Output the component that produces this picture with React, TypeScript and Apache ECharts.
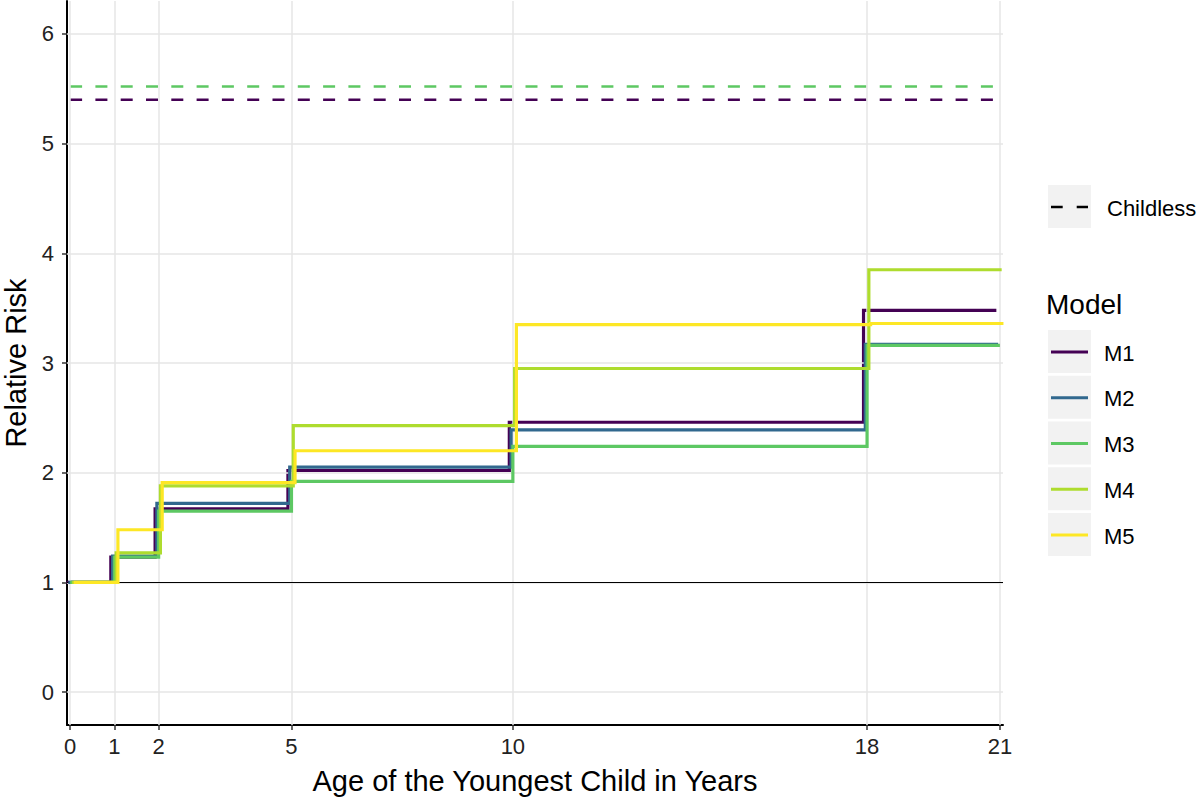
import React, { useEffect, useRef } from "react";
import * as echarts from "echarts";

// ---- data ----
const stepStarts = [0, 1, 2, 5, 10, 18];
const xEnd = 21;
const xTicks = [0, 1, 2, 5, 10, 18, 21];
const yTicks = [0, 1, 2, 3, 4, 5, 6];
const modelNames = ["M1", "M2", "M3", "M4", "M5"];
const m1 = [1, 1.23, 1.67, 2.02, 2.46, 3.48];
const m2 = [1, 1.24, 1.72, 2.05, 2.39, 3.17];
const m3 = [1, 1.23, 1.65, 1.92, 2.24, 3.16];
const m4 = [1, 1.27, 1.88, 2.43, 2.95, 3.85];
const m5 = [1, 1.48, 1.91, 2.2, 3.35, 3.36];
const childlessNames = ["M1", "M3"];
const childlessValues = [5.4, 5.52];
const referenceValue = 1;

// ---- styles ----
const modelColors = ["#440154", "#31688E", "#5DC863", "#AEDC2E", "#FDE725"];
const childlessColors = ["#440154", "#5DC863"];
const dodge = [-0.08, -0.04, 0, 0.04, 0.08];
const FONT = "Liberation Sans, Arial, sans-serif";

export default function App() {
  const ref = useRef<HTMLDivElement>(null);
  useEffect(() => {
    document.body.style.margin = "0";
    const chart = echarts.init(ref.current!, null, { renderer: "svg" });
    const allModels = [m1, m2, m3, m4, m5];

    const gridSeries: any = {
      type: "line",
      name: "grid",
      data: [],
      z: 1,
      silent: true,
      markLine: {
        silent: true,
        symbol: "none",
        label: { show: false },
        animation: false,
        lineStyle: { color: "#E6E6E6", width: 1.5, type: "solid" },
        data: [
          ...xTicks.map((v) => ({ xAxis: v })),
          ...yTicks.map((v) => ({ yAxis: v })),
        ],
      },
    };
    const refSeries: any = {
      type: "line",
      name: "ref",
      data: [],
      z: 2,
      silent: true,
      markLine: {
        silent: true,
        symbol: "none",
        label: { show: false },
        animation: false,
        lineStyle: { color: "#000", width: 1, type: "solid" },
        data: [{ yAxis: referenceValue }],
      },
    };

    const childlessSeries = childlessValues.map((v, i) => ({
      type: "line",
      name: "Childless " + childlessNames[i],
      data: [
        [0, v],
        [xEnd, v],
      ],
      symbol: "none",
      z: 3,
      lineStyle: { color: childlessColors[i], width: 2.6, type: [12, 13.3] },
    }));

    const stepSeries = allModels.map((vals, i) => {
      const pts = stepStarts.map((x, k) => [x + dodge[i], vals[k]]);
      pts.push([xEnd + dodge[i], vals[vals.length - 1]]);
      return {
        type: "line",
        name: modelNames[i],
        step: "end",
        data: pts,
        symbol: "none",
        z: 4 + i,
        lineStyle: { color: modelColors[i], width: 3.2, join: "miter" },
      };
    });

    const legendTop = 330;
    const legendStep = 45.75;
    const graphic: any[] = [
      { type: "rect", shape: { x: 1048, y: 185, width: 43, height: 43 }, style: { fill: "#F2F2F2" } },
      {
        type: "line",
        shape: { x1: 1051, y1: 207, x2: 1088, y2: 207 },
        style: { stroke: "#000", lineWidth: 2.6, lineDash: [11.7, 14] },
      },
      {
        type: "text",
        x: 1107,
        y: 208,
        style: { text: "Childless", font: `22px ${FONT}`, fill: "#000", verticalAlign: "middle" },
      },
      {
        type: "text",
        x: 1046,
        y: 304,
        style: { text: "Model", font: `28px ${FONT}`, fill: "#000", verticalAlign: "middle" },
      },
    ];
    modelNames.forEach((n, i) => {
      const y0 = legendTop + i * legendStep;
      graphic.push({ type: "rect", shape: { x: 1048, y: y0, width: 43, height: 43 }, style: { fill: "#F2F2F2" } });
      graphic.push({
        type: "line",
        shape: { x1: 1051, y1: y0 + 22, x2: 1088, y2: y0 + 22 },
        style: { stroke: modelColors[i], lineWidth: 3.2 },
      });
      graphic.push({
        type: "text",
        x: 1104,
        y: y0 + 23,
        style: { text: n, font: `22px ${FONT}`, fill: "#000", verticalAlign: "middle" },
      });
    });

    chart.setOption({
      animation: false,
      grid: { left: 67, right: 197, top: 1, bottom: 73, containLabel: false, outerBoundsMode: "none" },
      xAxis: {
        type: "value",
        min: -0.07,
        max: 21.07,
        name: "Age of the Youngest Child in Years",
        nameLocation: "middle",
        nameGap: 41,
        nameTextStyle: { fontSize: 29, color: "#000", fontFamily: FONT },
        axisLine: { show: true, onZero: false, lineStyle: { color: "#000", width: 2 } },
        axisTick: { show: true, customValues: xTicks, length: 5, lineStyle: { color: "#333", width: 1.5 } },
        axisLabel: { customValues: xTicks, fontSize: 22, color: "#222", margin: 10, fontFamily: FONT },
        splitLine: { show: false },
      },
      yAxis: {
        type: "value",
        min: -0.3,
        max: 6.3,
        name: "Relative Risk",
        nameLocation: "middle",
        nameGap: 33,
        nameRotate: 90,
        nameTextStyle: { fontSize: 29, color: "#000", fontFamily: FONT },
        axisLine: { show: true, onZero: false, lineStyle: { color: "#000", width: 2 } },
        axisTick: { show: true, customValues: yTicks, length: 5, lineStyle: { color: "#333", width: 1.5 } },
        axisLabel: { customValues: yTicks, fontSize: 22, color: "#222", margin: 13, fontFamily: FONT },
        splitLine: { show: false },
      },
      series: [gridSeries, refSeries, ...childlessSeries, ...stepSeries],
      graphic,
    });
    return () => chart.dispose();
  }, []);
  return <div ref={ref} style={{ width: 1200, height: 798 }} />;
}
